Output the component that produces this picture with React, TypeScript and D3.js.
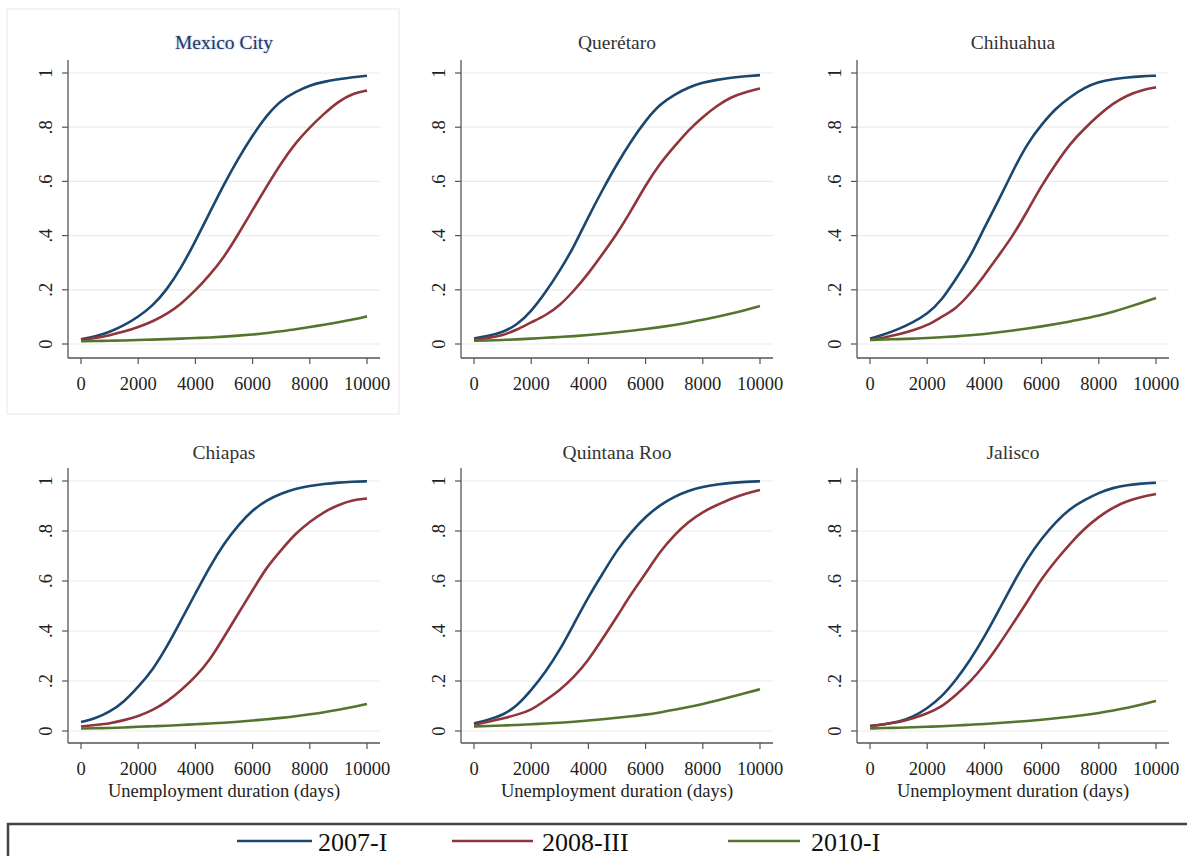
import React from 'react';
import * as d3 from 'd3';

// unemployment duration grid (days)
const days = d3.range(0, 10001, 500);

const seriesNames = ['2007-I', '2008-III', '2010-I'];
const seriesColors = ['#1a476f', '#90353b', '#55752f'];

const regions = ['Mexico City', 'Querétaro', 'Chihuahua', 'Chiapas', 'Quintana Roo', 'Jalisco'];

const mexicoCity2007 = [0.017, 0.028, 0.044, 0.068, 0.10, 0.14, 0.20, 0.28, 0.38, 0.485, 0.59, 0.685, 0.77, 0.845, 0.90, 0.93, 0.955, 0.968, 0.977, 0.985, 0.99];
const mexicoCity2008 = [0.015, 0.022, 0.032, 0.045, 0.062, 0.083, 0.11, 0.148, 0.197, 0.255, 0.32, 0.405, 0.495, 0.583, 0.668, 0.742, 0.80, 0.85, 0.895, 0.925, 0.935];
const mexicoCity2010 = [0.010, 0.011, 0.012, 0.013, 0.015, 0.016, 0.018, 0.020, 0.022, 0.024, 0.027, 0.031, 0.035, 0.040, 0.047, 0.054, 0.063, 0.071, 0.080, 0.090, 0.102];

const queretaro2007 = [0.02, 0.03, 0.043, 0.07, 0.12, 0.19, 0.27, 0.36, 0.47, 0.57, 0.665, 0.75, 0.825, 0.885, 0.92, 0.947, 0.965, 0.975, 0.983, 0.988, 0.992];
const queretaro2008 = [0.015, 0.022, 0.032, 0.052, 0.08, 0.105, 0.142, 0.197, 0.26, 0.333, 0.407, 0.493, 0.586, 0.666, 0.728, 0.79, 0.838, 0.88, 0.912, 0.93, 0.943];
const queretaro2010 = [0.012, 0.013, 0.015, 0.017, 0.02, 0.023, 0.026, 0.029, 0.033, 0.038, 0.043, 0.049, 0.055, 0.062, 0.07, 0.079, 0.09, 0.1, 0.112, 0.125, 0.14];

const chihuahua2007 = [0.02, 0.035, 0.055, 0.08, 0.11, 0.16, 0.24, 0.32, 0.43, 0.53, 0.64, 0.74, 0.81, 0.87, 0.912, 0.946, 0.968, 0.977, 0.984, 0.988, 0.99];
const chihuahua2008 = [0.015, 0.024, 0.035, 0.05, 0.068, 0.10, 0.13, 0.185, 0.253, 0.327, 0.40, 0.49, 0.585, 0.665, 0.74, 0.795, 0.845, 0.888, 0.918, 0.937, 0.947];
const chihuahua2010 = [0.015, 0.017, 0.018, 0.02, 0.022, 0.025, 0.028, 0.032, 0.037, 0.043, 0.05, 0.057, 0.065, 0.074, 0.083, 0.094, 0.105, 0.119, 0.135, 0.152, 0.17];

const chiapas2007 = [0.036, 0.05, 0.076, 0.116, 0.176, 0.243, 0.336, 0.443, 0.55, 0.657, 0.75, 0.824, 0.884, 0.924, 0.95, 0.97, 0.98, 0.988, 0.994, 0.997, 0.999];
const chiapas2008 = [0.018, 0.024, 0.03, 0.043, 0.059, 0.083, 0.116, 0.163, 0.216, 0.283, 0.376, 0.47, 0.563, 0.657, 0.724, 0.79, 0.837, 0.877, 0.904, 0.924, 0.93];
const chiapas2010 = [0.01, 0.011, 0.012, 0.014, 0.017, 0.019, 0.021, 0.024, 0.027, 0.03, 0.033, 0.037, 0.042, 0.047, 0.052, 0.059, 0.067, 0.075, 0.085, 0.096, 0.108];

const quintanaRoo2007 = [0.03, 0.045, 0.063, 0.10, 0.163, 0.236, 0.323, 0.43, 0.537, 0.63, 0.724, 0.797, 0.857, 0.904, 0.937, 0.961, 0.977, 0.986, 0.993, 0.997, 0.999];
const quintanaRoo2008 = [0.025, 0.037, 0.05, 0.065, 0.083, 0.123, 0.163, 0.216, 0.283, 0.37, 0.457, 0.55, 0.63, 0.717, 0.784, 0.837, 0.877, 0.904, 0.93, 0.95, 0.964];
const quintanaRoo2010 = [0.018, 0.02, 0.022, 0.024, 0.027, 0.03, 0.033, 0.037, 0.042, 0.047, 0.053, 0.059, 0.065, 0.074, 0.085, 0.096, 0.108, 0.122, 0.137, 0.152, 0.167];

const jalisco2007 = [0.02, 0.027, 0.036, 0.056, 0.09, 0.136, 0.203, 0.283, 0.376, 0.482, 0.59, 0.69, 0.77, 0.837, 0.89, 0.924, 0.953, 0.973, 0.984, 0.99, 0.993];
const jalisco2008 = [0.02, 0.027, 0.035, 0.05, 0.07, 0.096, 0.143, 0.196, 0.263, 0.343, 0.43, 0.517, 0.61, 0.683, 0.75, 0.81, 0.857, 0.895, 0.92, 0.937, 0.948];
const jalisco2010 = [0.01, 0.012, 0.013, 0.015, 0.017, 0.019, 0.022, 0.025, 0.028, 0.032, 0.036, 0.04, 0.045, 0.051, 0.057, 0.064, 0.072, 0.082, 0.093, 0.106, 0.12];

const regionSeries = [
  [mexicoCity2007, mexicoCity2008, mexicoCity2010],
  [queretaro2007, queretaro2008, queretaro2010],
  [chihuahua2007, chihuahua2008, chihuahua2010],
  [chiapas2007, chiapas2008, chiapas2010],
  [quintanaRoo2007, quintanaRoo2008, quintanaRoo2010],
  [jalisco2007, jalisco2008, jalisco2010],
];

const xTicks = [0, 2000, 4000, 6000, 8000, 10000];
const yTicks = [0, 0.2, 0.4, 0.6, 0.8, 1];
const yTickLabel = (v: number) => (v === 0 ? '0' : v === 1 ? '1' : d3.format('.1f')(v).replace(/^0/, ''));

const FONT = '"Liberation Serif", "Times New Roman", serif';
const W = 1187;
const H = 856;

// layout of the 3x2 grid
const colAxisX = [68, 461, 857];
const rows = [
  { yTop: 60, y1: 73, y0: 344, axisY: 358, titleY: 49 },
  { yTop: 468, y1: 481, y0: 731, axisY: 743, titleY: 459 },
];

interface PanelProps {
  title: string;
  data: number[][];
  col: number;
  row: number;
  showXLabel: boolean;
  highlight: boolean;
}

const Panel: React.FC<PanelProps> = ({ title, data, col, row, showXLabel, highlight }) => {
  const ax = colAxisX[col];
  const r = rows[row];
  const x = d3.scaleLinear().domain([0, 10000]).range([ax + 13, ax + 299]);
  const y = d3.scaleLinear().domain([0, 1]).range([r.y0, r.y1]);
  const xEnd = ax + 312;
  const cx = (x(0) + x(10000)) / 2;

  const line = d3.line<number>()
    .x((_, i) => x(days[i]))
    .y((d) => y(d))
    .curve(d3.curveBasis);

  return (
    <g>
      {highlight && (
        <rect x={7} y={9} width={392} height={405} fill="none" stroke="#ececec" strokeWidth={1.2} />
      )}
      <text
        x={cx}
        y={r.titleY}
        textAnchor="middle"
        fontFamily={FONT}
        fontSize={19.5}
        fill={highlight ? '#1f3a72' : '#333'}
        style={highlight ? { textShadow: '0 0 2px rgba(40,60,120,0.45)' } : undefined}
      >
        {title}
      </text>

      {yTicks.map((t) => (
        <line key={'g' + t} x1={ax} x2={xEnd} y1={y(t)} y2={y(t)} stroke="#ebebeb" strokeWidth={1.2} />
      ))}

      <line x1={ax} x2={ax} y1={r.yTop} y2={r.axisY} stroke="#555" strokeWidth={1.3} />
      <line x1={ax} x2={xEnd} y1={r.axisY} y2={r.axisY} stroke="#555" strokeWidth={1.3} />

      {yTicks.map((t) => (
        <g key={'y' + t}>
          <line x1={ax - 6} x2={ax} y1={y(t)} y2={y(t)} stroke="#555" strokeWidth={1.2} />
          <text
            transform={`translate(${ax - 16},${y(t)}) rotate(-90)`}
            textAnchor="middle"
            fontFamily={FONT}
            fontSize={18.5}
            fill="#222"
          >
            {yTickLabel(t)}
          </text>
        </g>
      ))}

      {xTicks.map((t) => (
        <g key={'x' + t}>
          <line x1={x(t)} x2={x(t)} y1={r.axisY} y2={r.axisY + 6} stroke="#555" strokeWidth={1.2} />
          <text x={x(t)} y={r.axisY + 32} textAnchor="middle" fontFamily={FONT} fontSize={18.5} fill="#222">
            {t}
          </text>
        </g>
      ))}

      {showXLabel && (
        <text x={cx} y={r.axisY + 54} textAnchor="middle" fontFamily={FONT} fontSize={18.5} fill="#222">
          Unemployment duration (days)
        </text>
      )}

      {data.map((s, i) => (
        <path key={i} d={line(s) || ''} fill="none" stroke={seriesColors[i]} strokeWidth={2.6} strokeLinejoin="round" />
      ))}
    </g>
  );
};

const legendLines = [
  [237, 312, 318],
  [452, 533, 542],
  [728, 800, 811],
];

const App: React.FC = () => (
  <svg
    width={W}
    height={H}
    viewBox={`0 0 ${W} ${H}`}
    style={{ position: 'absolute', left: 0, top: 0, background: '#fff' }}
  >
    {regions.map((name, i) => (
      <Panel
        key={name}
        title={name}
        data={regionSeries[i]}
        col={i % 3}
        row={Math.floor(i / 3)}
        showXLabel={i >= 3}
        highlight={i === 0}
      />
    ))}

    <rect x={8} y={824} width={W} height={60} fill="#fff" stroke="#444" strokeWidth={2.5} />
    {seriesNames.map((name, i) => (
      <g key={name}>
        <line x1={legendLines[i][0]} x2={legendLines[i][1]} y1={841} y2={841} stroke={seriesColors[i]} strokeWidth={2.6} />
        <text x={legendLines[i][2]} y={851} fontFamily={FONT} fontSize={26} fill="#111">
          {name}
        </text>
      </g>
    ))}
  </svg>
);

export default App;
